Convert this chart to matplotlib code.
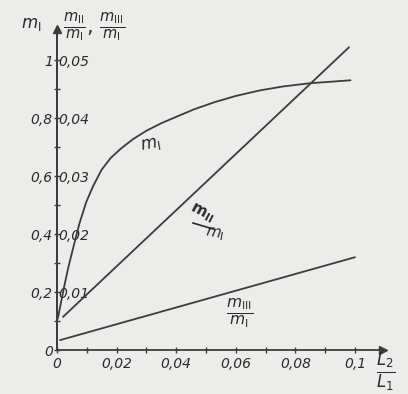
import matplotlib
matplotlib.use("Agg")
import matplotlib.pyplot as plt
from matplotlib.ticker import FixedLocator, MultipleLocator
from matplotlib.lines import Line2D

# ---- data ----
L_mI = [0.0000, 0.0005, 0.0013, 0.0024, 0.0038, 0.0055, 0.0075, 0.0098, 0.0122,
        0.0150, 0.0180, 0.0215, 0.0255, 0.0300, 0.0350, 0.0400, 0.0460, 0.0530,
        0.0600, 0.0680, 0.0760, 0.0850, 0.0985]
m_I = [0.100, 0.120, 0.162, 0.218, 0.285, 0.355, 0.435, 0.510, 0.567,
       0.622, 0.662, 0.695, 0.727, 0.756, 0.782, 0.804, 0.830, 0.855,
       0.876, 0.895, 0.909, 0.920, 0.930]

L_r2 = [0.002, 0.098]
r2 = [0.0057, 0.0522]        # m_II / m_I

L_r3 = [0.001, 0.100]
r3 = [0.0017, 0.0160]        # m_III / m_I

x_ticks = [0, 0.02, 0.04, 0.06, 0.08, 0.10]
x_labels = ["0", "0,02", "0,04", "0,06", "0,08", "0,1"]
yl_ticks = [0, 0.2, 0.4, 0.6, 0.8, 1.0]
yl_labels = ["0", "0,2", "0,4", "0,6", "0,8", "1"]
yr_ticks = [0.01, 0.02, 0.03, 0.04, 0.05]
yr_labels = ["0,01", "0,02", "0,03", "0,04", "0,05"]

W, H = 408, 394
BG = "#ececea"
INK = "#3c3c3c"
TXT = "#2a2a2a"

plt.rcParams["mathtext.fontset"] = "dejavusans"

fig = plt.figure(figsize=(W / 100, H / 100), dpi=100, facecolor=BG)
x0, y0, x1, y1 = 57, 350, 383, 29
ax = fig.add_axes([x0 / W, 1 - y0 / H, (x1 - x0) / W, (y0 - y1) / H])
ax.set_facecolor("none")
px_per_x = 298 / 0.1
px_per_y = 290 / 1.0
xmax = (x1 - x0) / px_per_x
ymax = (y0 - y1) / px_per_y
ax.set_xlim(0, xmax)
ax.set_ylim(0, ymax)

ax2 = ax.twinx()
ax2.set_ylim(0, ymax / 20)
ax2.set_facecolor("none")

for a in (ax, ax2):
    for s in ("top", "right"):
        a.spines[s].set_visible(False)
ax2.spines["left"].set_visible(False)
ax2.spines["bottom"].set_visible(False)
ax2.spines["right"].set_visible(True)
ax2.spines["right"].set_position(("axes", 0))
ax2.spines["right"].set_color(INK)
ax2.spines["right"].set_linewidth(1.3)
for s in ("left", "bottom"):
    ax.spines[s].set_color(INK)
    ax.spines[s].set_linewidth(1.3)

tfont = dict(fontsize=10, style="italic", color=TXT)

ax.xaxis.set_major_locator(FixedLocator(x_ticks))
ax.set_xticklabels(x_labels, **tfont)
ax.xaxis.set_minor_locator(MultipleLocator(0.01))
ax.tick_params(axis="x", which="both", direction="inout", length=4, width=1, color=INK, pad=3)

ax.yaxis.set_major_locator(FixedLocator(yl_ticks))
ax.set_yticklabels(yl_labels, **tfont)
ax.yaxis.set_minor_locator(MultipleLocator(0.1))
ax.tick_params(axis="y", which="both", direction="inout", length=4, width=1, color=INK, pad=1)

ax2.yaxis.set_major_locator(FixedLocator(yr_ticks))
ax2.set_yticklabels(yr_labels, **tfont)
ax2.tick_params(axis="y", which="both", length=0, pad=1)

# arrows at the axis ends
ax.plot([1], [0], marker=">", ms=6, color=INK, transform=ax.transAxes, clip_on=False)
ax.plot([0], [1], marker="^", ms=6, color=INK, transform=ax.transAxes, clip_on=False)

# curves
ax.plot(L_mI, m_I, color=INK, lw=1.3, solid_capstyle="round", solid_joinstyle="round")
ax2.plot(L_r2, r2, color=INK, lw=1.3, solid_capstyle="round")
ax2.plot(L_r3, r3, color=INK, lw=1.3, solid_capstyle="round")


def ptext(x, y, s, **kw):
    fig.text(x / W, 1 - y / H, s, ha="center", va="center", color=TXT, **kw)


# in-plot labels
ptext(150, 144, r"$m_\mathrm{I}$", fontsize=12, rotation=10)
ptext(202, 213, r"$\mathbf{m_{II}}$", fontsize=11, rotation=-28)
fig.add_artist(Line2D([193 / W, 213 / W], [1 - 223 / H, 1 - 229 / H], color=TXT, lw=1.2))
ptext(215, 234, r"$m_\mathrm{I}$", fontsize=11, rotation=-10)
ptext(240, 313, r"$\frac{m_\mathrm{III}}{m_\mathrm{I}}$", fontsize=16)

# axis titles
ptext(31, 24, r"$m_\mathrm{I}$", fontsize=12)
ptext(94, 27, r"$\frac{m_\mathrm{II}}{m_\mathrm{I}}$, $\frac{m_\mathrm{III}}{m_\mathrm{I}}$", fontsize=15)
ptext(386, 372, r"$\frac{L_2}{L_1}$", fontsize=17)

fig.savefig("out.png", dpi=100, facecolor=BG)
